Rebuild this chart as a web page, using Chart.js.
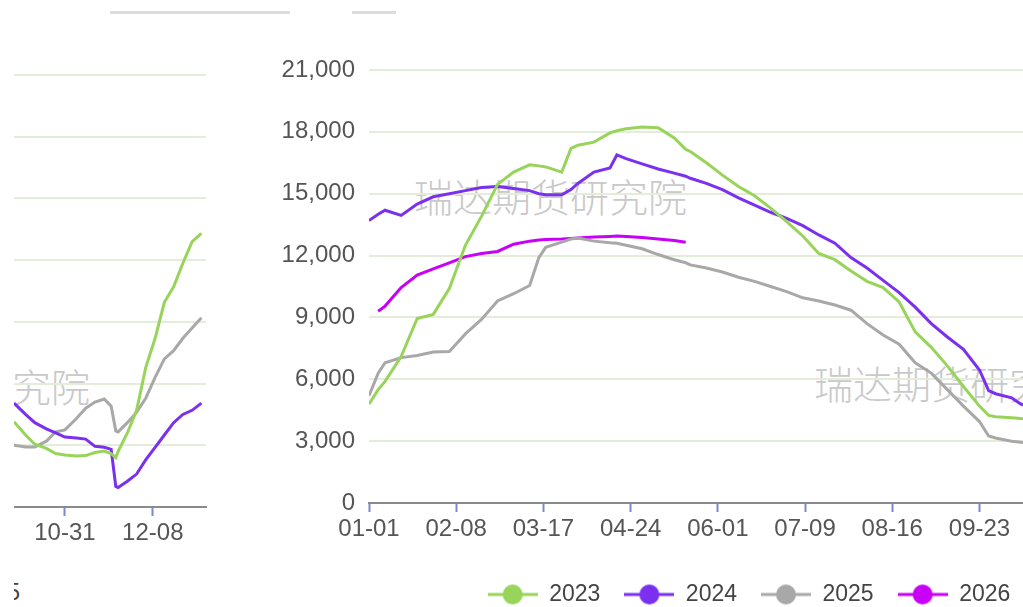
<!DOCTYPE html>
<html>
<head>
<meta charset="utf-8">
<script src="https://cdn.jsdelivr.net/npm/chart.js@4.4.1/dist/chart.umd.min.js"></script>
<style>
    html, body { margin: 0; padding: 0; background: #fff; }
    body { width: 1023px; height: 607px; overflow: hidden; position: relative; font-family: 'Liberation Sans', Arial, sans-serif; }
    .panel { position: absolute; overflow: hidden; }
    canvas { position: absolute; z-index: 2; }
    .mark { position: absolute; z-index: 1; white-space: nowrap; font-family: 'Noto Sans CJK SC', sans-serif; font-weight: 300; font-size: 39px; color: #c9c9c9; }
    .scrap { position: absolute; background: #dcdcdc; height: 3px; }
    .stub { position: absolute; font-size: 23px; color: #444; white-space: nowrap; }
</style>
</head>
<body>
<div class="scrap" style="left:110px; top:11px; width:180px;"></div>
<div class="scrap" style="left:352px; top:11px; width:44px;"></div>

<div class="panel" id="left-panel" style="left:14px; top:0; width:200px; height:607px;">
    <div class="mark" style="left:-197px; top:357px;">瑞达期货研究院</div>
    <div class="stub" style="left:-45px; top:579px;">2025</div>
    <canvas id="left-chart" width="196" height="560" style="left:0; top:0;"></canvas>
</div>

<div class="panel" id="right-panel" style="left:250px; top:0; width:773px; height:607px;">
    <div class="mark" style="left:164px; top:167px;">瑞达期货研究院</div>
    <div class="mark" style="left:564px; top:354px;">瑞达期货研究院</div>
    <canvas id="right-chart" width="998" height="616" style="left:0; top:0;"></canvas>
</div>

<script>
// day of year (leap-year calendar, 0 = 01-01)
const days = [0, 4, 7, 14, 21, 28, 35, 42, 49, 56, 63, 70, 74, 77, 84, 88, 91, 98, 105, 108, 112, 119, 126, 133, 138,
    140, 147, 154, 161, 168, 175, 182, 189, 196, 203, 210, 217, 224, 231, 238, 245, 252, 259, 266, 270, 273, 280, 284, 290];

const s2023 = [4800, 5500, 5900, 7100, 8950, 9150, 10400, 12500, 13900, 15450, 16050, 16400, 16350, 16300, 16050, 17200, 17350, 17500, 17950, 18050, 18150, 18230, 18200, 17700, 17150,
    17050, 16500, 15900, 15350, 14900, 14300, 13650, 12950, 12100, 11800, 11250, 10750, 10450, 9750, 8300, 7550, 6650, 5650, 4700, 4250, 4180, 4130, 4100, 4080];
const s2024 = [13700, 14000, 14200, 13950, 14500, 14850, 15000, 15150, 15300, 15350, 15250, 15150, 15000, 14950, 14950, 15200, 15500, 16050, 16250, 16880, 16700, 16450, 16200, 16000, 15850,
    15750, 15500, 15200, 14800, 14450, 14100, 13800, 13450, 13000, 12600, 11900, 11400, 10800, 10200, 9500, 8700, 8050, 7450, 6450, 5450, 5300, 5100, 4800, 4600];
const s2025 = [5200, 6300, 6800, 7050, 7150, 7320, 7350, 8200, 8900, 9800, 10150, 10550, 11900, 12400, 12650, 12800, 12850, 12700, 12620, 12600, 12500, 12330, 12050, 11800, 11650,
    11550, 11400, 11200, 10950, 10750, 10500, 10250, 9950, 9800, 9600, 9350, 8700, 8150, 7700, 6800, 6300, 5500, 4700, 3950, 3250, 3150, 3000, 2950, 2900];
const s2026 = [null, 9300, 9550, 10450, 11050, 11350, 11650, 11950, 12100, 12200, 12550, 12700, 12750, 12780, 12800, 12830, 12850, 12900, 12930, 12950, 12930, 12880, 12800, 12730, 12650];

// left panel: year-end part of the neighbouring chart
const leftDays = [282, 287, 291, 296, 300, 304, 309, 313, 317, 321, 324, 326, 327, 331, 335, 339, 343, 347, 351, 355, 359, 363];
const left2023 = [4150, 3500, 3050, 2850, 2600, 2530, 2480, 2500, 2650, 2720, 2600, 2400, 2700, 3600, 4700, 6800, 8200, 9950, 10700, 11850, 12900, 13300];
const left2024 = [5050, 4500, 4100, 3800, 3600, 3400, 3350, 3300, 2950, 2900, 2800, 1000, 950, 1250, 1600, 2300, 2900, 3500, 4100, 4500, 4700, 5050];
const left2025 = [3000, 2920, 2920, 3200, 3650, 3750, 4300, 4800, 5100, 5250, 4900, 3700, 3650, 4100, 4600, 5300, 6300, 7200, 7600, 8200, 8700, 9200];

const tickDays = [0, 38, 76, 114, 152, 190, 228, 266, 304, 342];
const tickLabels = ['01-01', '02-08', '03-17', '04-24', '06-01', '07-09', '08-16', '09-23', '10-31', '12-08'];
const yearNames = ['2023', '2024', '2025', '2026'];

const colors = {
    y2023: '#98d35a',
    y2024: '#7a30ee',
    y2025: '#a8a8a8',
    y2026: '#c800f8'
};

function legendIcon(color) {
    let c = document.createElement('canvas');
    c.width = 50;
    c.height = 22;
    let ctx = c.getContext('2d');
    ctx.strokeStyle = color;
    ctx.lineWidth = 3;
    ctx.beginPath();
    ctx.moveTo(0, 11);
    ctx.lineTo(50, 11);
    ctx.stroke();
    ctx.fillStyle = color;
    ctx.beginPath();
    ctx.arc(25, 11, 10, 0, Math.PI * 2);
    ctx.fill();
    return c;
}

function lineSet(label, data, color) {
    return {
        label,
        data,
        borderColor: color,
        backgroundColor: color,
        borderWidth: 3,
        pointRadius: 0,
        pointHoverRadius: 0,
        pointStyle: legendIcon(color),
        tension: 0,
        fill: false
    };
}

function xScale(min, max, height) {
    return {
        type: 'linear',
        min,
        max,
        afterBuildTicks: axis => {
            axis.ticks = tickDays.filter(v => v >= min && v <= max).map(v => ({ value: v }));
        },
        afterFit: axis => { axis.height = height; },
        ticks: {
            autoSkip: false,
            maxRotation: 0,
            padding: 3,
            color: '#555',
            font: { family: 'Liberation Sans', size: 24 },
            callback: value => tickLabels[tickDays.indexOf(value)]
        },
        grid: {
            drawOnChartArea: false,
            drawTicks: true,
            tickLength: 9,
            tickColor: '#7d87cc',
            tickWidth: 2
        },
        border: { color: '#8a8a8a', width: 2 }
    };
}

function yScale(showLabels, width) {
    return {
        min: 0,
        max: 21000,
        afterFit: axis => { axis.width = width; },
        ticks: {
            display: showLabels,
            stepSize: 3000,
            padding: 14,
            color: '#555',
            font: { family: 'Liberation Sans', size: 24 },
            callback: value => value.toLocaleString('en-US')
        },
        grid: {
            color: '#e3edd9',
            lineWidth: 2,
            drawTicks: false
        },
        border: { display: false }
    };
}

document.addEventListener('DOMContentLoaded', function () {
    // the right chart runs on past the photo's right edge, so its x range is longer than a year
    new Chart(document.getElementById('right-chart'), {
        type: 'line',
        data: {
            labels: days,
            datasets: [
                lineSet(yearNames[0], s2023, colors.y2023),
                lineSet(yearNames[1], s2024, colors.y2024),
                lineSet(yearNames[2], s2025, colors.y2025),
                lineSet(yearNames[3], s2026, colors.y2026)
            ]
        },
        options: {
            responsive: false,
            animation: false,
            events: [],
            layout: { padding: { top: 70, left: 0, right: 0, bottom: 0 } },
            scales: {
                x: xScale(0, 383, 56),
                y: yScale(true, 119)
            },
            plugins: {
                tooltip: { enabled: false },
                legend: {
                    position: 'bottom',
                    labels: {
                        usePointStyle: true,
                        pointStyleWidth: 50,
                        boxHeight: 22,
                        padding: 24,
                        color: '#444',
                        font: { family: 'Liberation Sans', size: 23 }
                    }
                }
            }
        }
    });

    new Chart(document.getElementById('left-chart'), {
        type: 'line',
        data: {
            labels: leftDays,
            datasets: [
                lineSet(yearNames[0], left2023, colors.y2023),
                lineSet(yearNames[1], left2024, colors.y2024),
                lineSet(yearNames[2], left2025, colors.y2025)
            ]
        },
        options: {
            responsive: false,
            animation: false,
            events: [],
            layout: { padding: { top: 75, left: 0, right: 4, bottom: 0 } },
            scales: {
                x: xScale(282, 365, 53),
                y: yScale(false, 0)
            },
            plugins: {
                tooltip: { enabled: false },
                legend: { display: false }
            }
        }
    });
});
</script>
</body>
</html>
